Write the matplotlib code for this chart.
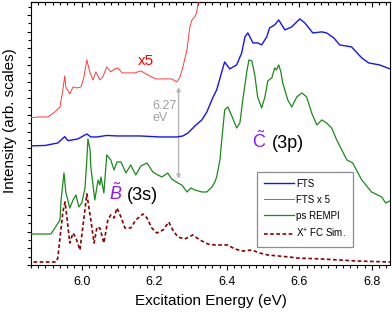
import matplotlib
matplotlib.use("Agg")
import matplotlib.pyplot as plt
from matplotlib.ticker import MultipleLocator
import numpy as np

plt.rcParams['font.family'] = ['Liberation Sans', 'DejaVu Sans']
plt.rcParams['mathtext.fontset'] = 'custom'
plt.rcParams['mathtext.rm'] = 'Liberation Sans'
plt.rcParams['mathtext.it'] = 'Liberation Sans:italic'
plt.rcParams['lines.solid_joinstyle'] = 'round'

### data (energy in eV, intensity in arb. units)
fts_e = [5.85, 5.899, 5.934, 5.953, 5.962, 5.989, 6.014, 6.025, 6.042, 6.069,
         6.097, 6.16, 6.215, 6.262, 6.279, 6.293, 6.312, 6.331, 6.345, 6.361,
         6.372, 6.386, 6.394, 6.408, 6.427, 6.441, 6.45, 6.458, 6.472, 6.485,
         6.496, 6.51, 6.518, 6.532, 6.543, 6.56, 6.579, 6.601, 6.615, 6.637,
         6.662, 6.675, 6.695, 6.711, 6.744, 6.772, 6.791, 6.821, 6.85]
fts_i = [119, 119.5, 122, 128.3, 124.3, 126, 131, 128, 128, 129.5,
         129, 129, 128, 128, 129, 132, 139, 145, 153, 167,
         175, 193, 203, 196, 200, 212, 228, 232, 222, 222,
         220, 228, 237, 240, 245, 235, 238, 246, 242, 232,
         233, 232, 227, 220, 218, 207, 202, 200, 196]

fts5_e = [5.85, 5.885, 5.907, 5.926, 5.94, 5.948, 5.953, 5.956, 5.967, 5.976,
          5.987, 5.998, 6.006, 6.014, 6.023, 6.031, 6.039, 6.05, 6.058, 6.069,
          6.08, 6.091, 6.1, 6.111, 6.127, 6.146, 6.163, 6.182, 6.204, 6.229,
          6.248, 6.262, 6.27, 6.279, 6.29, 6.298, 6.304, 6.312, 6.317, 6.32,
          6.326, 6.331]
fts5_i = [147, 148, 148, 153, 158, 175, 189, 178, 171, 178,
          177, 178, 188, 205, 192, 185, 193, 185, 188, 198,
          193, 196, 197, 192, 192, 192, 194, 190, 186, 186,
          186, 183, 187, 198, 215, 238, 245, 248, 253, 260,
          270, 285]

rempi_e = [5.85, 5.915, 5.926, 5.94, 5.943, 5.951, 5.956, 5.967, 5.976, 5.984,
           5.992, 6.0, 6.009, 6.014, 6.017, 6.023, 6.025, 6.036, 6.045, 6.05,
           6.053, 6.061, 6.069, 6.08, 6.089, 6.097, 6.108, 6.122, 6.135, 6.149,
           6.163, 6.18, 6.196, 6.21, 6.221, 6.237, 6.248, 6.265, 6.276, 6.29,
           6.301, 6.312, 6.331, 6.345, 6.359, 6.367, 6.372, 6.381, 6.386, 6.392,
           6.394, 6.403, 6.416, 6.427, 6.436, 6.444, 6.455, 6.461, 6.469, 6.477,
           6.485, 6.496, 6.505, 6.513, 6.524, 6.532, 6.537, 6.543, 6.549, 6.554,
           6.568, 6.579, 6.593, 6.607, 6.62, 6.634, 6.648, 6.662, 6.675, 6.689,
           6.703, 6.717, 6.731, 6.747, 6.772, 6.799, 6.827, 6.838, 6.85]
rempi_i = [31, 31, 37, 45, 65, 92, 73, 57, 65, 70,
           58, 62, 77, 105, 126, 115, 98, 65, 85, 80,
           88, 72, 110, 105, 95, 103, 103, 92, 100, 90,
           99, 102, 93, 90, 88, 92, 86, 82, 80, 73,
           77, 75, 73, 73, 78, 83, 88, 105, 125, 147,
           155, 158, 147, 137, 142, 165, 193, 205, 204, 190,
           168, 157, 168, 184, 187, 197, 195, 200, 193, 182,
           165, 158, 168, 172, 168, 152, 140, 145, 142, 137,
           125, 115, 105, 102, 85, 73, 68, 62, 64]

fc_e = [5.85, 5.929, 5.934, 5.94, 5.948, 5.954, 5.959, 5.967, 5.976, 5.984,
        5.995, 6.003, 6.014, 6.025, 6.034, 6.042, 6.05, 6.061, 6.072, 6.08,
        6.089, 6.097, 6.108, 6.119, 6.135, 6.149, 6.169, 6.18, 6.193, 6.207,
        6.224, 6.24, 6.251, 6.265, 6.284, 6.306, 6.326, 6.348, 6.367, 6.403,
        6.422, 6.444, 6.469, 6.491, 6.513, 6.573, 6.593, 6.664, 6.758, 6.85]
fc_i = [3, 3, 7, 27, 53, 63, 48, 22, 32, 27,
        15, 38, 71, 45, 22, 38, 37, 22, 45, 50,
        47, 57, 48, 37, 37, 45, 51, 47, 37, 32,
        35, 43, 35, 28, 26, 30, 25, 21, 20, 20,
        16, 14, 15, 12, 10, 8, 7, 6, 4, 3]

legend_labels = ["FTS", "FTS x 5", "ps REMPI", "X$^{+}$ FC Sim."]

fig = plt.figure(figsize=(3.92, 3.14), dpi=100)
ax = fig.add_axes([0.079, 0.156, 0.916, 0.838])

ax.plot(fc_e, fc_i, color='#8b0000', lw=1.2, dashes=(2.2, 1.5),
        label=legend_labels[3], zorder=2)
ax.plot(rempi_e, rempi_i, color='#1a8a1a', lw=0.9,
        label=legend_labels[2], zorder=3)
ax.plot(fts5_e, fts5_i, color='#ff3b3b', lw=0.7,
        label=legend_labels[1], zorder=3)
ax.plot(fts_e, fts_i, color='#1414ff', lw=1.0,
        label=legend_labels[0], zorder=4)

ax.set_xlim(5.86, 6.85)
ax.set_ylim(0, 263)

# 6.27 eV marker
ax.annotate("", xy=(6.267, 178), xytext=(6.267, 86),
            arrowprops=dict(arrowstyle='<|-|>', color='#b8b8b8', lw=1.0,
                            mutation_scale=6, shrinkA=0, shrinkB=0))
ax.text(6.196, 165, "6.27\neV", color='#a0a0a0', fontsize=9,
        ha='left', va='top', linespacing=1.05)

ax.text(6.155, 200, "x5", color='red', fontsize=11, ha='left', va='baseline')

ax.text(6.076, 65, r"$\tilde{B}$", color='#8c1aff', fontsize=13,
        ha='left', va='baseline')
ax.text(6.124, 65, "(3s)", color='black', fontsize=13, ha='left', va='baseline')
ax.text(6.470, 117, r"$\tilde{\mathrm{C}}$", color='#8c1aff', fontsize=13,
        ha='left', va='baseline')
ax.text(6.524, 117, "(3p)", color='black', fontsize=13, ha='left', va='baseline')

handles, labels = ax.get_legend_handles_labels()
order = [3, 2, 1, 0]
leg = ax.legend([handles[k] for k in order], [labels[k] for k in order],
                loc='upper left', bbox_to_anchor=(0.63, 0.354),
                borderaxespad=0, fontsize=7, fancybox=False, framealpha=1,
                edgecolor='#8c8c8c', handlelength=3.1, handletextpad=0.2,
                labelspacing=0.62, borderpad=0.7)
leg.get_frame().set_linewidth(0.9)

ax.set_xlabel("Excitation Energy (eV)", fontsize=11, labelpad=4.5)
ax.set_ylabel("Intensity (arb. scales)", fontsize=11)
ax.yaxis.set_label_coords(-0.04, 0.548)

ax.xaxis.set_major_locator(MultipleLocator(0.2))
ax.xaxis.set_minor_locator(MultipleLocator(0.02))
ax.yaxis.set_major_locator(MultipleLocator(50 / 3))
ax.yaxis.set_minor_locator(MultipleLocator(25 / 3))
ax.set_xticks(np.arange(6.0, 6.81, 0.2))
ax.set_xticklabels(["6.0", "6.2", "6.4", "6.6", "6.8"])
ax.tick_params(axis='x', which='both', direction='out', labelsize=9, pad=4,
               width=0.8)
ax.tick_params(axis='x', which='major', length=3.6)
ax.tick_params(axis='x', which='minor', length=2.2)
ax.tick_params(axis='y', which='both', direction='out', labelleft=False,
               width=0.8)
ax.tick_params(axis='y', which='major', length=3.2)
ax.tick_params(axis='y', which='minor', length=2.2)

top = ax.secondary_xaxis('top')
top.xaxis.set_major_locator(MultipleLocator(0.2))
top.xaxis.set_minor_locator(MultipleLocator(0.02))
top.tick_params(axis='x', which='both', direction='in', labeltop=False,
                width=0.8)
top.tick_params(axis='x', which='major', length=3.6)
top.tick_params(axis='x', which='minor', length=2.2)

for sp in ax.spines.values():
    sp.set_linewidth(0.8)
top.spines['top'].set_linewidth(0.8)

fig.savefig("out.png", dpi=100)
